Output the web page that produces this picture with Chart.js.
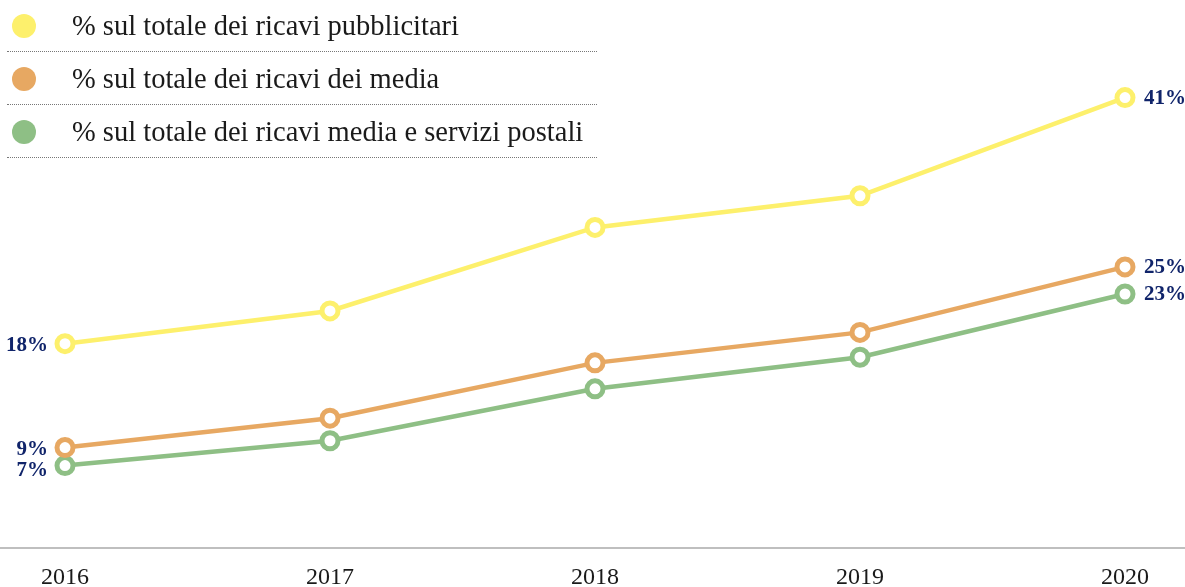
<!DOCTYPE html>
<html>
<head>
<meta charset="utf-8">
<script src="https://cdn.jsdelivr.net/npm/chart.js@4/dist/chart.umd.min.js"></script>
<style>
  html, body { margin: 0; padding: 0; background: #fff; }
  #wrap { position: relative; width: 1185px; height: 587px; }
  #legend { position: absolute; left: 7px; top: -1px; width: 590px; font-family: "Liberation Serif", serif; }
  .leg-row { height: 52px; border-bottom: 1px dotted #777; position: relative; }
  .leg-dot { position: absolute; left: 5px; top: 15px; width: 24px; height: 24px; border-radius: 50%; }
  .leg-txt { position: absolute; left: 65px; top: 11px; font-size: 28.5px; color: #1a1a1a; white-space: nowrap; }
</style>
</head>
<body>
<div id="wrap">
  <canvas id="chart" width="1185" height="587"></canvas>
  <div id="legend"></div>
</div>
<script>
// dati
const anni = ["2016", "2017", "2018", "2019", "2020"];
const serieNomi = [
  "% sul totale dei ricavi pubblicitari",
  "% sul totale dei ricavi dei media",
  "% sul totale dei ricavi media e servizi postali"
];
const ricaviPubblicitari = [18.1, 21.0, 28.4, 31.2, 39.9];
const ricaviMedia = [8.9, 11.5, 16.4, 19.1, 24.9];
const ricaviMediaPostali = [7.3, 9.5, 14.1, 16.9, 22.5];
const etichetteInizio = ["18%", "9%", "7%"];
const etichetteFine = ["41%", "25%", "23%"];
const colori = ["#fdf06c", "#e7a862", "#8ebf85"];

const navy = "#10246a";

// legenda HTML
const legend = document.getElementById("legend");
serieNomi.forEach((n, i) => {
  legend.innerHTML += `<div class="leg-row"><span class="leg-dot" style="background:${colori[i]}"></span><span class="leg-txt">${n}</span></div>`;
});

// linea di base + etichette inizio/fine
const extras = {
  id: "extras",
  afterDraw(chart) {
    const { ctx, chartArea } = chart;
    ctx.save();
    ctx.strokeStyle = "#aaaaaa";
    ctx.lineWidth = 1.5;
    ctx.beginPath();
    ctx.moveTo(0, chartArea.bottom);
    ctx.lineTo(chart.width, chartArea.bottom);
    ctx.stroke();

    ctx.fillStyle = navy;
    ctx.font = "bold 21px 'Liberation Serif', serif";
    ctx.textBaseline = "middle";
    chart.data.datasets.forEach((ds, i) => {
      const pts = chart.getDatasetMeta(i).data;
      const first = pts[0], last = pts[pts.length - 1];
      ctx.textAlign = "right";
      ctx.fillText(etichetteInizio[i], first.x - 17, first.y + 2 + (i === 2 ? 3 : 0));
      ctx.textAlign = "left";
      ctx.fillText(etichetteFine[i], last.x + 19, last.y + 1);
    });
    ctx.restore();
  }
};

const mkDs = (data, i) => ({
  label: serieNomi[i],
  data,
  borderColor: colori[i],
  backgroundColor: "#ffffff",
  pointBackgroundColor: "#ffffff",
  pointBorderColor: colori[i],
  borderWidth: 4.5,
  pointBorderWidth: 5,
  pointRadius: 8,
  tension: 0,
  clip: false,
});

new Chart(document.getElementById("chart"), {
  type: "line",
  data: {
    labels: anni,
    datasets: [
      mkDs(ricaviPubblicitari, 0),
      mkDs(ricaviMedia, 1),
      mkDs(ricaviMediaPostali, 2),
    ]
  },
  options: {
    responsive: false,
    animation: false,
    layout: { padding: { left: 65, right: 60, top: 40, bottom: 0 } },
    plugins: { legend: { display: false }, tooltip: { enabled: false } },
    scales: {
      x: {
        offset: false,
        grid: { display: false, drawTicks: false },
        border: { display: false },
        ticks: { color: "#1a1a1a", font: { family: "'Liberation Serif', serif", size: 24, lineHeight: 1 }, padding: 18, maxRotation: 0 },
        afterFit: s => { s.height = 39; }
      },
      y: {
        display: false,
        min: 0, max: 45,
      }
    }
  },
  plugins: [extras]
});
</script>
</body>
</html>
